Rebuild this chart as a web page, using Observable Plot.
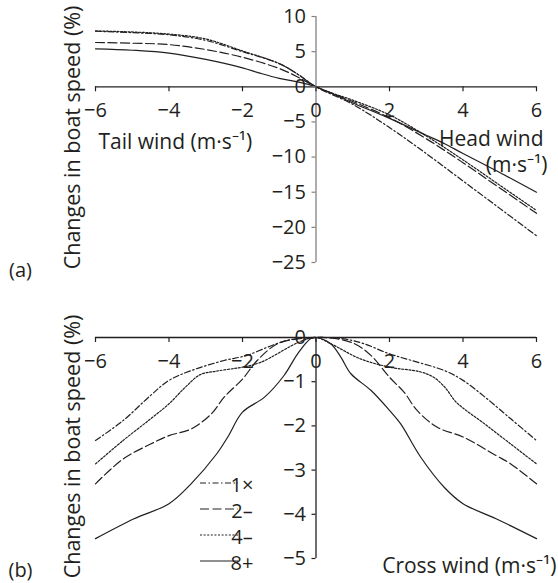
<!DOCTYPE html>
<html><head><meta charset="utf-8">
<script src="https://cdn.jsdelivr.net/npm/d3@7"></script>
<script src="https://cdn.jsdelivr.net/npm/@observablehq/plot@0.6"></script>
<style>
body{margin:0;background:#fff;}
#chart{width:558px;height:583px;position:relative;}
#chart svg{display:block;}
</style></head><body><div id="chart"></div>
<script>
// ---- shared ----
const seriesNames = ["1×", "2–", "4–", "8+"];
const dashStyles = ["6,2.5,1.5,2.5", "9,3.5", "2,1.6", null];
const xTicks = [-6, -4, -2, 0, 2, 4, 6];
const yTicksA = [10, 5, 0, -5, -10, -15, -20, -25];
const yTicksB = [0, -1, -2, -3, -4, -5];

// ---- panel (a): head / tail wind ----
const a1x = [-6, -5, -4, -3, -2, -1, -0.5, 0, 1, 2, 3, 4, 5, 6];
const a1y = [7.9, 7.7, 7.4, 6.6, 5.0, 3.3, 1.8, 0, -2.5, -5.8, -9.5, -13.4, -17.3, -21.2];
const a2x = [-6, -5, -4, -3, -2, -1, -0.5, 0, 1, 2, 3, 4, 5, 6];
const a2y = [6.3, 6.2, 6.0, 5.3, 4.2, 2.6, 1.4, 0, -2.1, -4.4, -7.4, -10.8, -14.4, -18.0];
const a4x = [-6, -5, -4, -3, -2, -1, -0.5, 0, 1, 2, 3, 4, 5, 6];
const a4y = [7.95, 7.8, 7.5, 6.8, 5.1, 3.3, 1.8, 0, -1.9, -4.0, -7.0, -10.4, -14.0, -17.6];
const a8x = [-6, -5, -4, -3, -2, -1.5, -1, -0.5, 0, 1, 2, 3, 3.5, 4, 5, 6];
const a8y = [5.4, 5.2, 4.8, 3.9, 2.7, 1.9, 1.2, 0.7, 0, -2.3, -4.5, -6.9, -8.1, -9.5, -12.2, -15.0];

// ---- panel (b): cross wind ----
const b1x = [-6, -5.25, -4.5, -4, -3.4, -2.5, -1.9, -1.2, -0.7, 0, 0.75, 1.3, 2, 2.6, 3.5, 4, 4.6, 5.3, 6];
const b1y = [-2.33, -1.88, -1.31, -0.97, -0.75, -0.52, -0.41, -0.18, -0.05, 0, -0.03, -0.14, -0.37, -0.52, -0.75, -0.97, -1.35, -1.84, -2.33];
const b2x = [-6, -5.25, -4.5, -4, -3.4, -2.85, -2.5, -2, -1.6, -1.05, -0.5, 0, 0.4, 1.05, 1.5, 2, 2.4, 2.75, 3.3, 4, 4.9, 5.3, 6];
const b2y = [-3.31, -2.75, -2.41, -2.22, -2.07, -1.73, -1.35, -0.94, -0.52, -0.14, -0.03, 0, -0.01, -0.14, -0.41, -0.9, -1.24, -1.65, -2.03, -2.25, -2.67, -2.86, -3.31];
const b4x = [-6, -5.25, -4.5, -4, -3.55, -3.15, -2.7, -2, -1.5, -0.45, 0, 0.4, 1.2, 2, 2.85, 3.2, 3.5, 3.8, 4.1, 4.5, 5.3, 6];
const b4y = [-2.86, -2.33, -1.84, -1.5, -1.12, -0.84, -0.76, -0.67, -0.56, -0.1, 0, -0.14, -0.48, -0.67, -0.78, -0.9, -1.12, -1.45, -1.66, -1.9, -2.41, -2.86];
const b8x = [-6, -4.95, -4, -3.4, -2.7, -2.4, -2, -1.4, -0.87, -0.5, -0.15, 0, 0.4, 0.68, 0.95, 1.5, 2, 2.3, 2.85, 3.5, 4, 4.9, 6];
const b8y = [-4.55, -4.1, -3.76, -3.31, -2.63, -2.25, -1.69, -1.35, -0.86, -0.37, -0.03, 0, -0.14, -0.45, -0.82, -1.2, -1.65, -1.95, -2.71, -3.4, -3.76, -4.1, -4.55];

const tickFmt = d => d < 0 ? "\u2212" + Math.abs(d) : String(d);
const ink = "#231f20";
const FONT = "'Open Sans', sans-serif";

function rows(name, xs, ys) { return xs.map((x, i) => ({series: name, x, y: ys[i]})); }
const dataA = [rows("1×", a1x, a1y), rows("2–", a2x, a2y), rows("4–", a4x, a4y), rows("8+", a8x, a8y)];
const dataB = [rows("1×", b1x, b1y), rows("2–", b2x, b2y), rows("4–", b4x, b4y), rows("8+", b8x, b8y)];

function label(str, ml, mt, px, py, opts = {}) {
  return Plot.text([str], {frameAnchor: "top-left", dx: px - ml, dy: py - mt, text: d => d,
    fontSize: opts.size || 21, textAnchor: opts.anchor || "middle", rotate: opts.rotate || 0, fill: ink});
}

function seriesLines(data) {
  return data.map((d, i) => Plot.line(d, {x: "x", y: "y", stroke: ink, strokeWidth: 1.2,
    strokeDasharray: dashStyles[i] || undefined, curve: "catmull-rom"}));
}

// ---- Plot (a) ----
const mA = {l: 95, r: 22, t: 16, b: 18};
const plotA = Plot.plot({
  width: 558, height: 280,
  marginLeft: mA.l, marginRight: mA.r, marginTop: mA.t, marginBottom: mA.b,
  style: {fontFamily: FONT, color: ink, background: "#fff", overflow: "visible"},
  x: {domain: [-6, 6], axis: null},
  y: {domain: [-25, 10], axis: null},
  marks: [
    ...seriesLines(dataA),
    Plot.ruleY([0], {x1: -6, x2: 6, stroke: ink, strokeWidth: 1.3}),
    Plot.ruleX([0], {y1: -25, y2: 10, stroke: "#808080", strokeWidth: 1.3}),
    Plot.ruleX(xTicks, {x: d => d, y1: 0, y2: 0, insetTop: 0, insetBottom: -5, stroke: ink, strokeWidth: 1.2}),
    Plot.ruleY(yTicksA, {y: d => d, x1: 0, x2: 0, insetLeft: -4, insetRight: 0, stroke: "#808080", strokeWidth: 1.2}),
    Plot.text(xTicks, {x: d => d, y: 0, text: tickFmt, dy: 24, fontSize: 20, fill: ink}),
    Plot.text(yTicksA, {x: 0, y: d => d, text: tickFmt, dx: -10, textAnchor: "end", fontSize: 20, fill: ink}),
    label("Tail wind (m·s⁻¹)", mA.l, mA.t, 98, 134, {anchor: "start"}),
    label("Head wind", mA.l, mA.t, 543, 131, {anchor: "end"}),
    label("(m·s⁻¹)", mA.l, mA.t, 547, 157, {anchor: "end"}),
    label("Changes in boat speed (%)", mA.l, mA.t, 64, 137, {rotate: -90, size: 21.5}),
    label("(a)", mA.l, mA.t, 20, 262, {size: 20})
  ]
});

// ---- Plot (b) ----
const mB = {l: 95, r: 22, t: 57, b: 25};
const plotB = Plot.plot({
  width: 558, height: 303,
  marginLeft: mB.l, marginRight: mB.r, marginTop: mB.t, marginBottom: mB.b,
  style: {fontFamily: FONT, color: ink, background: "#fff", overflow: "visible"},
  x: {domain: [-6, 6], axis: null},
  y: {domain: [-5, 0], axis: null},
  marks: [
    ...seriesLines(dataB),
    Plot.ruleY([0], {x1: -6, x2: 6, stroke: ink, strokeWidth: 1.3}),
    Plot.ruleX([0], {y1: -5, y2: 0, stroke: ink, strokeWidth: 1.3}),
    Plot.ruleX(xTicks, {x: d => d, y1: 0, y2: 0, insetTop: 0, insetBottom: -5, stroke: ink, strokeWidth: 1.2}),
    Plot.ruleY(yTicksB, {y: d => d, x1: 0, x2: 0, insetLeft: -4, insetRight: 0, stroke: ink, strokeWidth: 1.2}),
    Plot.text(xTicks, {x: d => d, y: 0, text: tickFmt, dy: 24, fontSize: 20, fill: ink}),
    Plot.text(yTicksB, {x: 0, y: d => d, text: tickFmt, dx: -10, textAnchor: "end", fontSize: 20, fill: ink}),
    label("Cross wind (m·s⁻¹)", mB.l, mB.t, 556, 278, {anchor: "end"}),
    label("Changes in boat speed (%)", mB.l, mB.t, 64, 166, {rotate: -90, size: 21.5}),
    label("(b)", mB.l, mB.t, 20, 282, {size: 20})
  ]
});

// legend for (b)
const lg = d3.select(plotB).append("g").attr("font-family", FONT).attr("font-size", 20).attr("fill", ink);
seriesNames.forEach((name, i) => {
  const y = 203 + 26 * i;
  const ln = lg.append("line").attr("x1", 200).attr("x2", 238).attr("y1", y).attr("y2", y)
    .attr("stroke", ink).attr("stroke-width", 1.2);
  if (dashStyles[i]) ln.attr("stroke-dasharray", dashStyles[i]);
  lg.append("text").attr("x", 242).attr("y", y + 2).attr("dy", "0.35em").text(name);
});

document.getElementById("chart").append(plotA, plotB);
</script>
</body></html>
